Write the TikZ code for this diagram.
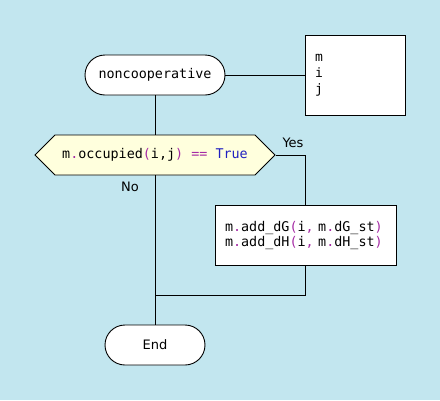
\documentclass[tikz,border=0pt]{standalone}
\usepackage{fontspec}
\setmainfont{DejaVu Sans}
\setmonofont{DejaVu Sans Mono}
\usepackage{xcolor}
\usetikzlibrary{shapes.symbols}

\begin{document}
\begin{tikzpicture}[x=1pt,y=-1pt,line width=0.9pt,
  termbox/.style={draw,fill=white,rounded corners=20pt,minimum width=140pt,minimum height=40pt,font=\fontsize{13}{15}\selectfont},
  varbox/.style={draw,fill=white,minimum width=100pt,minimum height=80pt,font=\fontsize{13}{16}\ttfamily,align=left,text width=80pt},
  procbox/.style={draw,fill=white,minimum width=181pt,minimum height=60pt,font=\fontsize{13.4}{15}\ttfamily,align=left,text width=161pt},
  testbox/.style={draw,fill=decfill,signal,signal to=west and east,signal pointer angle=90,minimum width=240pt,minimum height=40pt,inner sep=0pt,font=\fontsize{13.4}{15}\ttfamily},
  answer/.style={font=\fontsize{13}{15}\selectfont}]
\definecolor{bgblue}{HTML}{C2E6EF}
\definecolor{decfill}{HTML}{FFFFDD}
\definecolor{oppurple}{HTML}{A52AA5}
\definecolor{kwblue}{HTML}{2020C0}
\newcommand{\pp}[1]{\textcolor{oppurple}{#1}}
\useasboundingbox (0,0) rectangle (440,400);
\fill[bgblue] (0,0) rectangle (440,400);
% nodes
\node [termbox] (start) at (155,75) {\ttfamily\fontsize{13.4}{15}\selectfont noncooperative};
\node [varbox] (vars) at (355,75) {m\\i\\j};
\node [testbox] (test) at (155,155) {m\pp{.}occupied\pp{(}i,j\pp{)} \pp{==} \textcolor{kwblue}{True}};
\node [procbox] (add) at (305.5,235) {m\pp{.}add\_dG\pp{(}i\pp{,} m\pp{.}dG\_st\pp{)}\\m\pp{.}add\_dH\pp{(}i\pp{,} m\pp{.}dH\_st\pp{)}};
\node [termbox,minimum width=100pt] (end) at (155,345) {End};
\node [answer] (yes) at (293,143) {Yes};
\node [answer] (no) at (130,187) {No};
\coordinate (join) at (155,295);
% connectors
\draw (start.east) -- (vars.west);
\draw (start.south) -- (test.north);
\draw (test.east) -| (add.north);
\draw (add.south) |- (join);
\draw (test.south) -- (end.north);
\end{tikzpicture}
\end{document}
